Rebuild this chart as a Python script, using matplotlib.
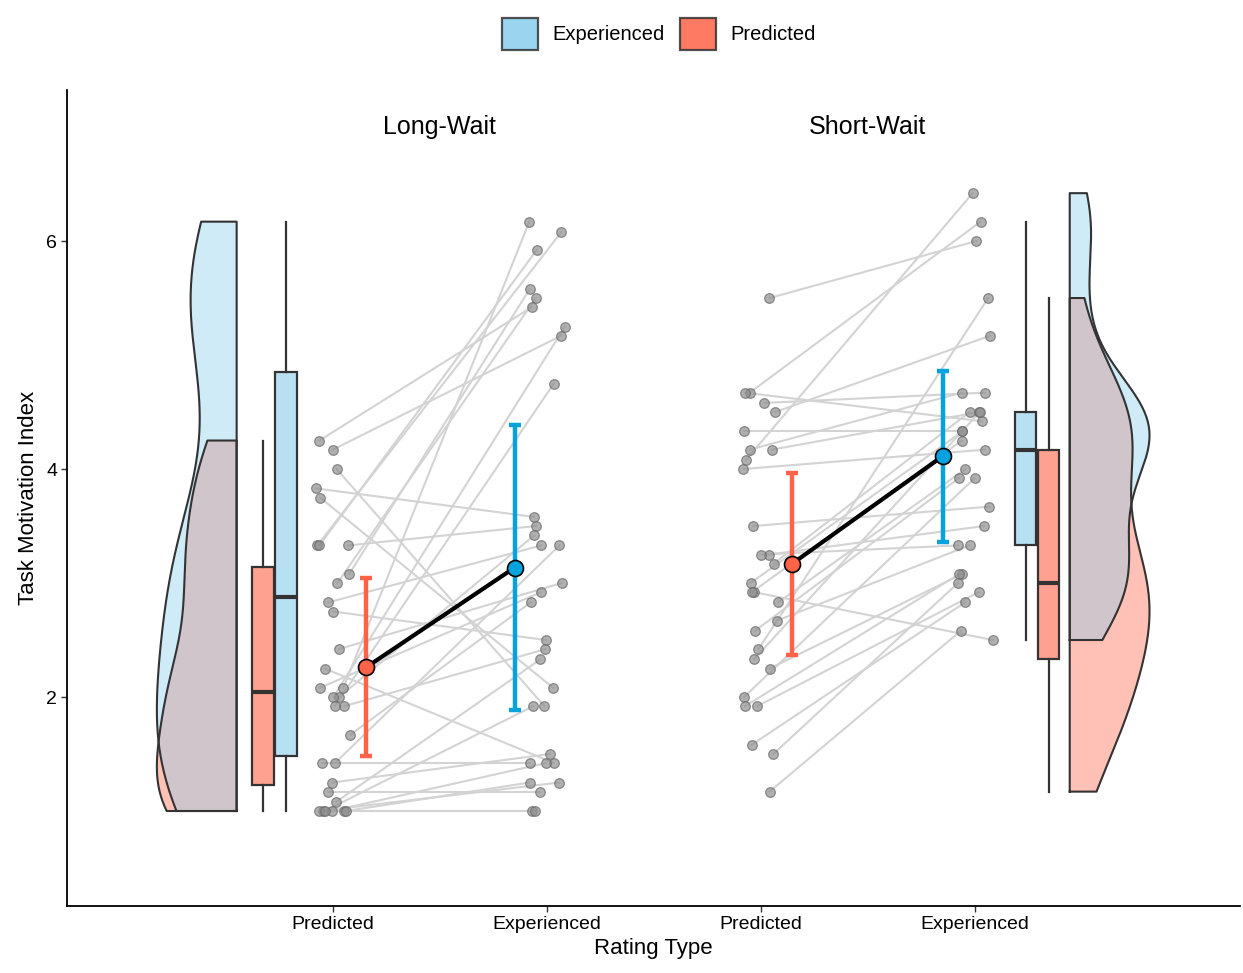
import numpy as np
import matplotlib
matplotlib.use("Agg")
import matplotlib.pyplot as plt
from matplotlib.patches import Patch

plt.rcParams['font.family'] = ['Liberation Sans', 'DejaVu Sans']

# ---------------- data ----------------
conditions = ["Long-Wait", "Short-Wait"]
rating_labels = ["Predicted", "Experienced", "Predicted", "Experienced"]

long_predicted = [4.25, 4.17, 4.00, 3.83, 3.75, 3.33, 3.33, 3.33, 3.08, 3.00, 2.83,
                  2.75, 2.42, 2.25, 2.08, 2.08, 2.00, 2.00, 1.92, 1.92, 1.67, 1.42,
                  1.42, 1.25, 1.17, 1.08, 1.00, 1.00, 1.00, 1.00, 1.00, 1.00]
long_experienced = [5.42, 5.17, 1.92, 3.58, 2.08, 3.50, 6.08, 5.92, 5.58, 5.50, 3.33,
                    2.50, 3.00, 1.42, 2.92, 6.17, 3.42, 5.25, 2.42, 4.75, 2.83, 1.42,
                    3.33, 1.50, 1.17, 2.33, 1.00, 1.00, 1.25, 1.25, 1.42, 1.92]

short_predicted = [5.50, 4.67, 4.67, 4.58, 4.50, 4.33, 4.17, 4.17, 4.08, 4.00, 3.50,
                   3.25, 3.25, 3.17, 3.00, 2.92, 2.92, 2.83, 2.67, 2.58, 2.42, 2.33,
                   2.25, 2.00, 1.92, 1.92, 1.58, 1.50, 1.17]
short_experienced = [6.00, 6.17, 4.42, 4.67, 5.17, 4.33, 4.50, 4.67, 6.42, 4.17, 3.67,
                     3.50, 3.33, 4.50, 4.33, 2.50, 4.25, 4.00, 3.33, 3.92, 5.50, 4.50,
                     3.08, 3.92, 3.08, 2.92, 2.83, 3.00, 2.58]

# error bar half-lengths (pred/exp for long, pred/exp for short)
error_long = [0.78, 1.25]
error_short = [0.80, 0.75]

# ---------------- style ----------------
C_EXP = "#87CEEB"
C_PRED = "#FF6347"
C_EXP_MEAN = "#05A2E0"
C_PRED_MEAN = "#FF6347"
EDGE = "#333333"

fig = plt.figure(figsize=(12.43, 9.73), dpi=100)
ax = fig.add_axes([0.0539, 0.0689, 0.9437, 0.8386])

rng = np.random.default_rng(11)


def kde(values, grid):
    v = np.asarray(values, float)
    n = len(v)
    sd = v.std(ddof=1)
    iqr = np.subtract(*np.percentile(v, [75, 25]))
    bw = 0.9 * min(sd, iqr / 1.34) * n ** -0.2
    d = np.exp(-0.5 * ((grid[:, None] - v[None, :]) / bw) ** 2).sum(1)
    return d / (n * bw * np.sqrt(2 * np.pi))


def half_violin(values, x0, direction, color, width=0.373):
    v = np.asarray(values, float)
    grid = np.linspace(v.min(), v.max(), 300)
    d = kde(v, grid)
    d = d / d.max() * width
    ax.fill_betweenx(grid, x0, x0 + direction * d, facecolor=color, alpha=0.4,
                     edgecolor="none", zorder=1)
    xs = np.concatenate([[x0], x0 + direction * d, [x0], [x0]])
    ys = np.concatenate([[grid[0]], grid, [grid[-1]], [grid[0]]])
    ax.plot(xs, ys, color=EDGE, lw=1.5, zorder=1.5)


def box(values, pos, color):
    bp = ax.boxplot([values], positions=[pos], widths=0.1, patch_artist=True,
                    showfliers=False, showcaps=False, whis=1.5, manage_ticks=False,
                    boxprops=dict(facecolor=matplotlib.colors.to_rgba(color, 0.6),
                                  edgecolor=EDGE, linewidth=1.6),
                    whiskerprops=dict(color=EDGE, linewidth=1.6),
                    medianprops=dict(color=EDGE, linewidth=3))
    for b in bp['boxes']:
        b.set_zorder(2)


# violins (predicted first, experienced on top)
half_violin(long_predicted, 0.55, -1, C_PRED)
half_violin(long_experienced, 0.55, -1, C_EXP)
half_violin(short_predicted, 4.444, 1, C_PRED)
half_violin(short_experienced, 4.444, 1, C_EXP)

# boxes
box(long_predicted, 0.673, C_PRED)
box(long_experienced, 0.78, C_EXP)
box(short_experienced, 4.238, C_EXP)
box(short_predicted, 4.346, C_PRED)

# paired lines and points
for pred, exp, xp, xe in [(long_predicted, long_experienced, 1, 2),
                          (short_predicted, short_experienced, 3, 4)]:
    n = len(pred)
    jp = xp + rng.uniform(-0.085, 0.085, n)
    je = xe + rng.uniform(-0.085, 0.085, n)
    for a, b, x1, x2 in zip(pred, exp, jp, je):
        ax.plot([x1, x2], [a, b], color="#D3D3D3", lw=1.5, zorder=3)
    ax.scatter(jp, pred, s=48, facecolor="#8f8f8f", edgecolor="#666666",
               alpha=0.7, linewidth=0.9, zorder=4)
    ax.scatter(je, exp, s=48, facecolor="#8f8f8f", edgecolor="#666666",
               alpha=0.7, linewidth=0.9, zorder=4)

# means and error bars
for pred, exp, errs, xp, xe in [(long_predicted, long_experienced, error_long, 1.155, 1.85),
                                (short_predicted, short_experienced, error_short, 3.145, 3.85)]:
    mp, me = np.mean(pred), np.mean(exp)
    ax.plot([xp, xe], [mp, me], color="black", lw=3, zorder=5)
    ax.errorbar([xp], [mp], yerr=[errs[0]], color=C_PRED_MEAN, lw=3.2, capsize=4.5,
                capthick=3.2, fmt="none", zorder=5)
    ax.errorbar([xe], [me], yerr=[errs[1]], color=C_EXP_MEAN, lw=3.2, capsize=4.5,
                capthick=3.2, fmt="none", zorder=5)
    ax.plot([xp], [mp], "o", ms=11.5, mfc=C_PRED_MEAN, mec="black", mew=1.2, zorder=6)
    ax.plot([xe], [me], "o", ms=11.5, mfc=C_EXP_MEAN, mec="black", mew=1.2, zorder=6)

# panel titles
for name, xc in zip(conditions, [1.5, 3.5]):
    ax.text(xc, 7.0, name, ha="center", va="center", fontsize=18, color="black")

# axes
ax.set_xlim(-0.243, 5.24)
ax.set_ylim(0.167, 7.325)
ax.set_xticks([1, 2, 3, 4])
ax.set_xticklabels(rating_labels, fontsize=14, color="black")
ax.set_yticks([2, 4, 6])
ax.set_yticklabels(["2", "4", "6"], fontsize=14, color="black")
ax.tick_params(axis="both", length=4, width=1, color=EDGE, pad=3)
for s in ["top", "right"]:
    ax.spines[s].set_visible(False)
for s in ["left", "bottom"]:
    ax.spines[s].set_linewidth(1.3)
    ax.spines[s].set_color("black")
ax.set_xlabel("Rating Type", fontsize=16, labelpad=4)
ax.set_ylabel("Task Motivation Index", fontsize=16, labelpad=5)

handles = [Patch(facecolor=C_EXP, alpha=0.85, edgecolor=EDGE, linewidth=1.6, label="Experienced"),
           Patch(facecolor=C_PRED, alpha=0.85, edgecolor=EDGE, linewidth=1.6, label="Predicted")]
fig.legend(handles=handles, loc="center", bbox_to_anchor=(0.53, 0.965), ncol=2,
           frameon=False, fontsize=14.5, handlelength=1.8, handleheight=2.0,
           columnspacing=0.75, handletextpad=0.7)

fig.savefig("out.png", dpi=100)
